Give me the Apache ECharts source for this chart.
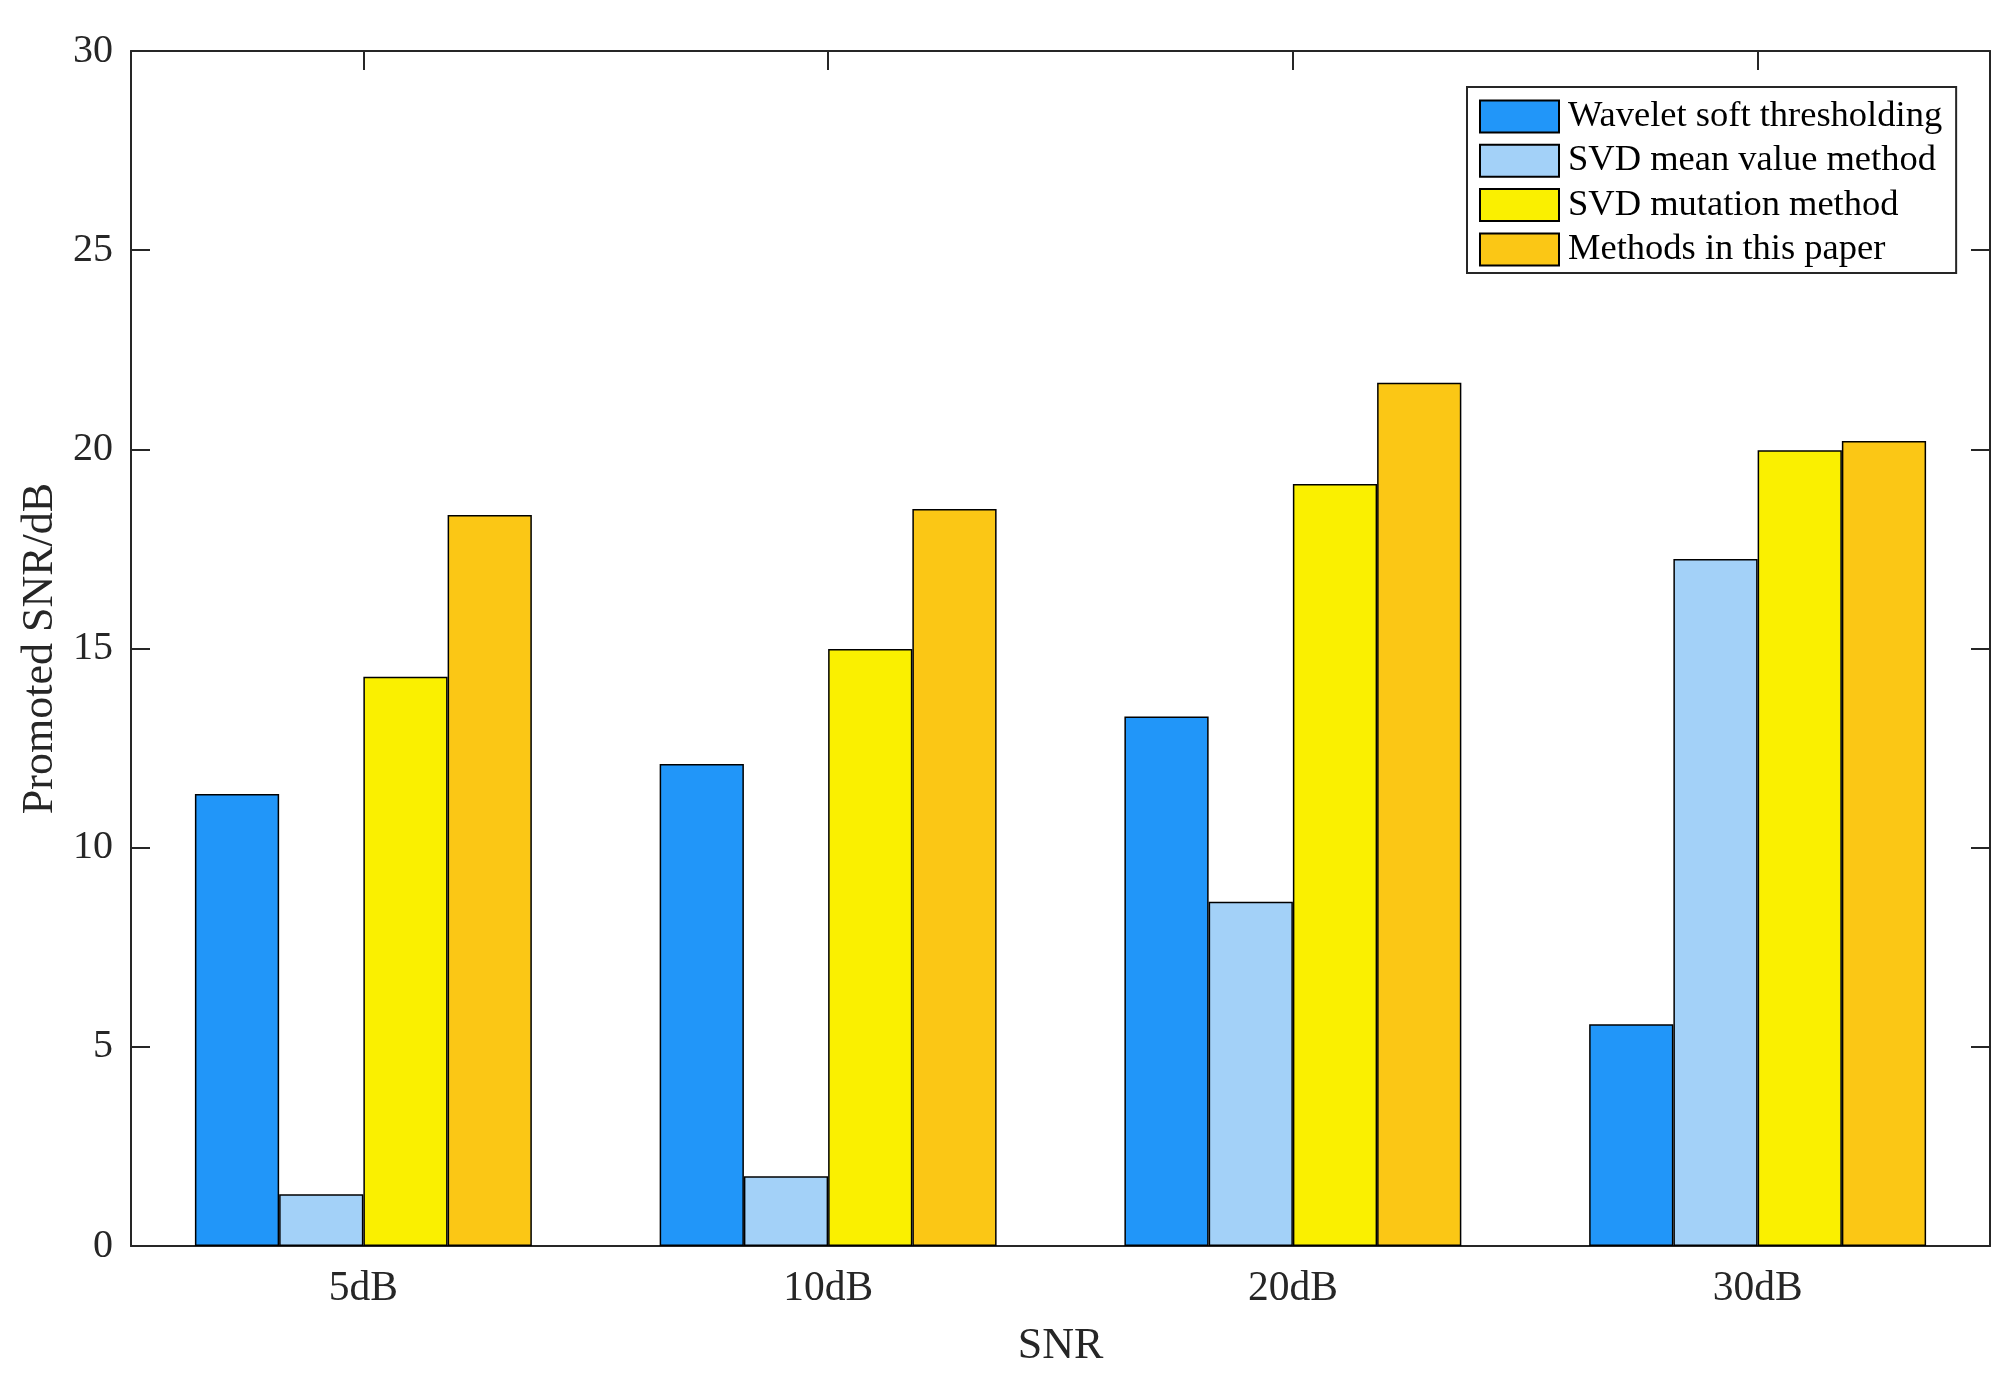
<!DOCTYPE html>
<html>
<head>
<meta charset="utf-8">
<script src="https://cdn.jsdelivr.net/npm/echarts@6/dist/echarts.min.js"></script>
<style>
html,body{margin:0;padding:0;background:#fff;}
#chart{width:2013px;height:1375px;}
</style>
</head>
<body>
<div id="chart"></div>
<script>
const categories = ['5dB', '10dB', '20dB', '30dB'];
const seriesNames = ['Wavelet soft thresholding', 'SVD mean value method', 'SVD mutation method', 'Methods in this paper'];
const waveletSoft = [11.35, 12.10, 13.29, 5.57];
const svdMean = [1.30, 1.75, 8.64, 17.25];
const svdMutation = [14.29, 14.99, 19.13, 19.98];
const thisPaper = [18.35, 18.50, 21.67, 20.21];
const yTicks = [0, 5, 10, 15, 20, 25, 30];
const colors = ['#2196F9', '#A3D1F8', '#FAF000', '#FBC715'];

const FONT = "'Liberation Serif', 'Times New Roman', serif";
const AX = '#262626';
const dataSets = [waveletSoft, svdMean, svdMutation, thisPaper];

const chart = echarts.init(document.getElementById('chart'));
const axisLine = { show: true, onZero: false, lineStyle: { color: AX, width: 2 } };
chart.setOption({
  animation: false,
  backgroundColor: '#fff',
  grid: { left: 131, right: 23, top: 51, bottom: 129, containLabel: false },
  legend: {
    orient: 'vertical',
    left: 1467, top: 87,
    itemWidth: 79, itemHeight: 32, itemGap: 7.3,
    padding: [11, 14, 5, 12],
    borderColor: AX, borderWidth: 2,
    backgroundColor: '#fff',
    icon: 'rect',
    textStyle: { fontFamily: FONT, fontSize: 36.5, lineHeight: 32, color: '#000', padding: [0, 0, 0, 4] },
    data: seriesNames
  },
  xAxis: [
    {
      type: 'category', data: categories, position: 'bottom',
      name: 'SNR', nameLocation: 'middle', nameGap: 78,
      nameTextStyle: { fontFamily: FONT, fontSize: 44, color: AX },
      axisLine: axisLine,
      axisTick: { show: false },
      axisLabel: { fontFamily: FONT, fontSize: 41.5, color: AX, margin: 22 },
      splitLine: { show: false }
    },
    {
      type: 'category', data: categories, position: 'top',
      axisLine: axisLine,
      axisTick: { show: true, inside: true, length: 19, alignWithLabel: true, lineStyle: { color: AX, width: 2 } },
      axisLabel: { show: false },
      splitLine: { show: false }
    }
  ],
  yAxis: [
    {
      type: 'value', min: 0, max: 30, interval: 5, position: 'left',
      name: 'Promoted SNR/dB', nameLocation: 'middle', nameGap: 68, nameRotate: 90,
      nameTextStyle: { fontFamily: FONT, fontSize: 44, color: AX },
      axisLine: axisLine,
      axisTick: { show: true, inside: true, length: 19, lineStyle: { color: AX, width: 2 } },
      axisLabel: { fontFamily: FONT, fontSize: 40, color: AX, margin: 18,
        formatter: v => (yTicks.indexOf(v) >= 0 ? String(v) : '') },
      splitLine: { show: false }
    },
    {
      type: 'value', min: 0, max: 30, interval: 5, position: 'right',
      axisLine: axisLine,
      axisTick: { show: true, inside: true, length: 19, lineStyle: { color: AX, width: 2 } },
      axisLabel: { show: false },
      splitLine: { show: false }
    }
  ],
  series: seriesNames.map((name, i) => ({
    name: name,
    type: 'bar',
    xAxisIndex: 0, yAxisIndex: 0,
    data: dataSets[i],
    barGap: '0%',
    barCategoryGap: '27.5%',
    itemStyle: { color: colors[i], borderColor: '#000', borderWidth: 1.5 },
    emphasis: { disabled: true }
  }))
});
</script>
</body>
</html>
